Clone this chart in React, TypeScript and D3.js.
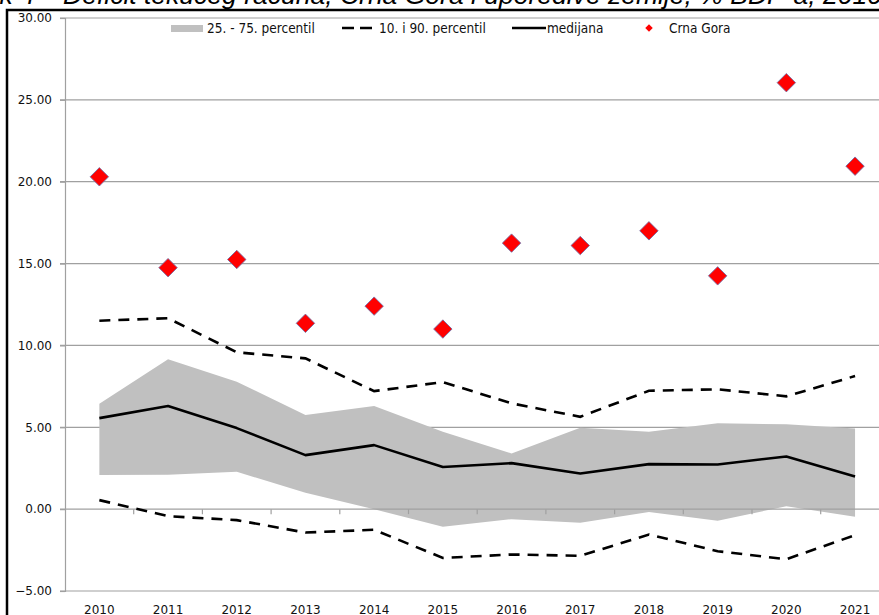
import React from "react";
import * as d3 from "d3";

const years = ["2010", "2011", "2012", "2013", "2014", "2015", "2016", "2017", "2018", "2019", "2020", "2021"];
const crnaGora = [20.3, 14.75, 15.25, 11.35, 12.4, 11.0, 16.25, 16.1, 17.0, 14.25, 26.05, 20.95];
const medijana = [5.56, 6.3, 4.95, 3.3, 3.91, 2.57, 2.81, 2.18, 2.75, 2.73, 3.22, 2.0];
const p25 = [2.08, 2.1, 2.28, 1.0, 0.0, -1.08, -0.61, -0.83, -0.18, -0.71, 0.18, -0.47];
const p75 = [6.44, 9.15, 7.78, 5.75, 6.3, 4.73, 3.4, 4.97, 4.73, 5.24, 5.18, 4.93];
const p10 = [0.55, -0.43, -0.67, -1.43, -1.26, -2.98, -2.77, -2.85, -1.55, -2.57, -3.06, -1.59];
const p90 = [11.51, 11.66, 9.58, 9.21, 7.21, 7.76, 6.46, 5.64, 7.23, 7.32, 6.89, 8.13];
const yTicks = [-5, 0, 5, 10, 15, 20, 25, 30];
const legendLabels = ["25. - 75. percentil", "10. i 90. percentil", "medijana", "Crna Gora"];

function drawChart(svgRef) {
  const svg = d3.select(svgRef.current);
  svg.selectAll("*").remove();

  const labelFont = "'DejaVu Sans', Verdana, sans-serif";
  const legendFont = "'Liberation Sans Narrow', 'DejaVu Sans Condensed', sans-serif";

  // scales - plot runs off the right edge like in the source
  const x = d3.scaleBand().domain(years).range([65, 65 + 12 * 68.7]);
  const y = d3.scaleLinear().domain([-5, 30]).range([591, 18]);
  const cx = (i) => x(years[i]) + x.bandwidth() / 2;

  // title (cut at the top)
  svg.append("text")
    .attr("x", 57).attr("y", 4)
    .attr("text-anchor", "end")
    .attr("font-family", "'Liberation Sans', Arial, sans-serif")
    .attr("font-style", "italic")
    .attr("font-size", 26.5)
    .text("Grafik 4 –");
  svg.append("text")
    .attr("x", 63).attr("y", 4)
    .attr("font-family", "'Liberation Sans', Arial, sans-serif")
    .attr("font-style", "italic")
    .attr("font-size", 26.5)
    .text("Deficit tekućeg računa, Crna Gora i uporedive zemlje, % BDP-a, 2010-2021");

  // frame
  svg.append("path")
    .attr("d", "M7,615 L7,10 L879,10")
    .attr("fill", "none")
    .attr("stroke", "#000")
    .attr("stroke-width", 2.5);

  // gridlines
  svg.append("g")
    .selectAll("line")
    .data(yTicks.filter(t => t !== 0))
    .join("line")
    .attr("x1", 60).attr("x2", 879)
    .attr("y1", d => y(d)).attr("y2", d => y(d))
    .attr("stroke", "#a0a0a0")
    .attr("stroke-width", 1.2);

  // y axis
  const yAxis = svg.append("g")
    .attr("transform", "translate(65,0)")
    .call(d3.axisLeft(y).tickValues(yTicks).tickSize(5).tickFormat(d3.format(".2f")));
  yAxis.select(".domain").attr("stroke", "#a0a0a0").attr("stroke-width", 1.2);
  yAxis.selectAll(".tick line").attr("stroke", "#a0a0a0").attr("stroke-width", 1.2);
  yAxis.selectAll("text")
    .attr("x", -13)
    .attr("font-family", labelFont)
    .attr("font-size", 12)
    .attr("fill", "#111");

  // band 25-75
  const area = d3.area()
    .x((d, i) => cx(i))
    .y0((d, i) => y(p25[i]))
    .y1((d, i) => y(p75[i]));
  svg.append("path")
    .datum(years)
    .attr("d", area)
    .attr("fill", "#c0c0c0");

  // category axis at zero
  svg.append("line")
    .attr("x1", 60).attr("x2", 879)
    .attr("y1", y(0)).attr("y2", y(0))
    .attr("stroke", "#a0a0a0")
    .attr("stroke-width", 1.2);
  svg.append("g")
    .selectAll("line")
    .data(years.slice(1))
    .join("line")
    .attr("x1", d => x(d)).attr("x2", d => x(d))
    .attr("y1", y(0)).attr("y2", y(0) + 5)
    .attr("stroke", "#a0a0a0")
    .attr("stroke-width", 1.2);

  // x labels along the bottom
  svg.append("g")
    .selectAll("text")
    .data(years)
    .join("text")
    .attr("x", (d, i) => cx(i))
    .attr("y", 614)
    .attr("text-anchor", "middle")
    .attr("font-family", labelFont)
    .attr("font-size", 12)
    .attr("fill", "#111")
    .text(d => d);

  const line = d3.line().x((d, i) => cx(i)).y(d => y(d));

  // percentile lines
  [p10, p90].forEach(s => {
    svg.append("path")
      .datum(s)
      .attr("d", line)
      .attr("fill", "none")
      .attr("stroke", "#000")
      .attr("stroke-width", 2.6)
      .attr("stroke-dasharray", "11,8");
  });

  // median
  svg.append("path")
    .datum(medijana)
    .attr("d", line)
    .attr("fill", "none")
    .attr("stroke", "#000")
    .attr("stroke-width", 2.6)
    .attr("stroke-linejoin", "round");

  // Crna Gora diamonds
  const diamond = d3.symbol(d3.symbolSquare, 170);
  svg.append("g")
    .selectAll("path")
    .data(crnaGora)
    .join("path")
    .attr("d", diamond)
    .attr("transform", (d, i) => `translate(${cx(i)},${y(d)}) rotate(45)`)
    .attr("fill", "#ff0000")
    .attr("stroke", "#6f6fa8")
    .attr("stroke-width", 0.8);

  // legend
  const lg = svg.append("g").attr("font-family", legendFont).attr("font-size", 13.5).attr("fill", "#111");
  const ly = 28;
  lg.append("rect").attr("x", 171).attr("y", 25).attr("width", 32).attr("height", 7).attr("fill", "#c0c0c0");
  lg.append("text").attr("x", 207).attr("y", ly + 4.5).text(legendLabels[0]);
  lg.append("line").attr("x1", 342).attr("x2", 372).attr("y1", ly).attr("y2", ly)
    .attr("stroke", "#000").attr("stroke-width", 2.6).attr("stroke-dasharray", "12,6");
  lg.append("text").attr("x", 379).attr("y", ly + 4.5).text(legendLabels[1]);
  lg.append("line").attr("x1", 512).attr("x2", 546).attr("y1", ly).attr("y2", ly)
    .attr("stroke", "#000").attr("stroke-width", 2.6);
  lg.append("text").attr("x", 547).attr("y", ly + 4.5).text(legendLabels[2]);
  lg.append("path")
    .attr("d", d3.symbol(d3.symbolSquare, 28))
    .attr("transform", `translate(649,${ly}) rotate(45)`)
    .attr("fill", "#ff0000");
  lg.append("text").attr("x", 669).attr("y", ly + 4.5).text(legendLabels[3]);
}

const App = () => {
  const svg = React.useRef(null);

  React.useEffect(() => {
    drawChart(svg);
  }, [svg]);

  return (
    <svg
      ref={svg}
      width={879}
      height={615}
      style={{ position: "absolute", left: 0, top: 0, background: "#fff" }}
    />
  );
};

export default App;
